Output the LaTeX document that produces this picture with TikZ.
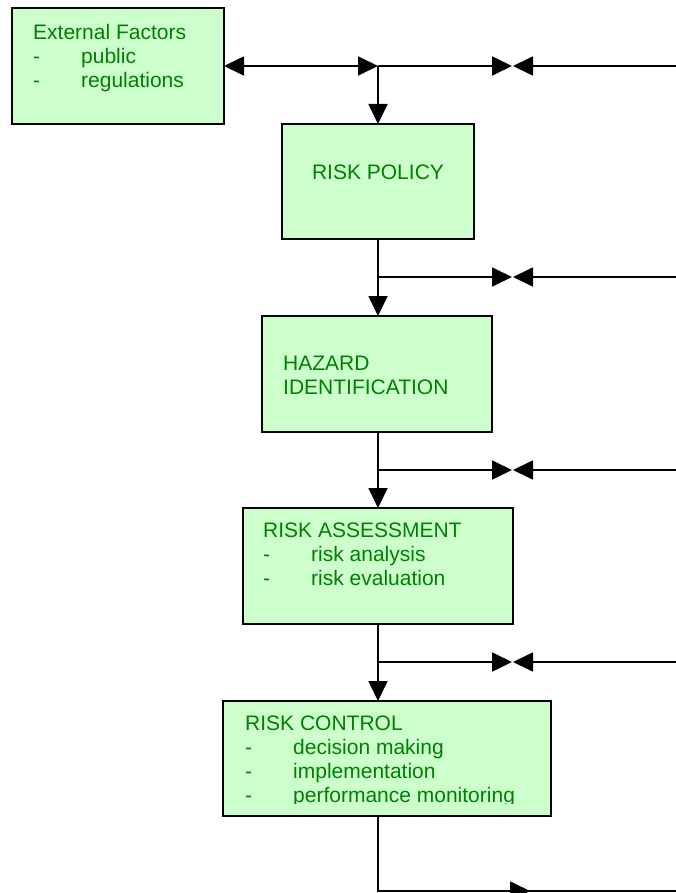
\documentclass[tikz,border=0pt]{standalone}
\usepackage{fontspec}
\setmainfont{Liberation Sans}
\usetikzlibrary{arrows.meta}
\definecolor{boxfill}{HTML}{CCFFCC}
\definecolor{txtgreen}{HTML}{008000}
\newcommand{\itm}[1]{\makebox[48pt][l]{-}#1}
\begin{document}
\begin{tikzpicture}[x=1pt,y=-1pt,
  box/.style={draw=black,line width=1.8pt,fill=boxfill,rectangle,anchor=north west,inner sep=0pt,outer sep=0pt},
  lbl/.style={anchor=base west,inner sep=0pt,text=txtgreen,font=\fontsize{21}{24}\selectfont},
  clbl/.style={anchor=base,inner sep=0pt,text=txtgreen,font=\fontsize{21}{24}\selectfont},
  conn/.style={line width=1.8pt,-{Triangle[length=20pt,width=19pt]}},
  plain/.style={line width=1.8pt}]
\useasboundingbox (0,0) rectangle (676,893);
% boxes
\node[box,minimum width=212pt,minimum height=116pt] (ext) at (12,8) {};
\node[box,minimum width=192pt,minimum height=115pt] (pol) at (282,124) {};
\node[box,minimum width=230pt,minimum height=116pt] (haz) at (262,316) {};
\node[box,minimum width=270pt,minimum height=116pt] (ra) at (243,508) {};
\node[box,minimum width=328pt,minimum height=115pt] (rc) at (223,701) {};
% texts
\node[lbl] (ext1) at (33,40) {External Factors};
\node[lbl] (ext2) at (33,64) {\itm{public}};
\node[lbl] (ext3) at (33,88) {\itm{regulations}};
\node[clbl] (pol1) at (378,179.5) {RISK POLICY};
\node[lbl] (haz1) at (283,370.5) {HAZARD};
\node[lbl] (haz2) at (283,394.5) {IDENTIFICATION};
\node[lbl] (ra1) at (263,537.5) {RISK ASSESSMENT};
\node[lbl] (ra2) at (263,561.5) {\itm{risk analysis}};
\node[lbl] (ra3) at (263,585.5) {\itm{risk evaluation}};
\node[lbl] (rc1) at (245,730.5) {RISK CONTROL};
\node[lbl] (rc2) at (245,754.5) {\itm{decision making}};
\node[lbl] (rc3) at (245,778.5) {\itm{implementation}};
\begin{scope}
\clip (223,701) rectangle (551,803.5);
\node[lbl] (rc4) at (245,802.5) {\itm{performance monitoring}};
\end{scope}
% coordinates
\coordinate (j1) at (378,66);
\coordinate (a1) at (512,66);
\coordinate (b1) at (513,66);
\coordinate (e1) at (676,66);
\coordinate (x1) at (224,66);
\coordinate (j2) at (378,277);
\coordinate (a2) at (512,277);
\coordinate (b2) at (513,277);
\coordinate (e2) at (676,277);
\coordinate (j3) at (378,470);
\coordinate (a3) at (512,470);
\coordinate (b3) at (513,470);
\coordinate (e3) at (676,470);
\coordinate (j4) at (378,662);
\coordinate (a4) at (512,662);
\coordinate (b4) at (513,662);
\coordinate (e4) at (676,662);
\coordinate (c5) at (378,891);
\coordinate (a5) at (530,891);
\coordinate (e5) at (676,891);
% row 1
\draw[line width=1.8pt,{Triangle[length=20pt,width=19pt]}-{Triangle[length=20pt,width=19pt]}] (x1) -- (j1);
\draw[conn] (j1) -- (a1);
\draw[conn] (e1) -- (b1);
\draw[conn] (j1) -- (pol.north -| j1);
% row 2
\draw[conn] (pol.south -| j2) -- (haz.north -| j2);
\draw[conn] (j2) -- (a2);
\draw[conn] (e2) -- (b2);
% row 3
\draw[conn] (haz.south -| j3) -- (ra.north -| j3);
\draw[conn] (j3) -- (a3);
\draw[conn] (e3) -- (b3);
% row 4
\draw[conn] (ra.south -| j4) -- (rc.north -| j4);
\draw[conn] (j4) -- (a4);
\draw[conn] (e4) -- (b4);
% row 5
\draw[plain] (rc.south -| c5) -- (c5) -- (e5);
\draw[conn] (c5) -- (a5);
\end{tikzpicture}
\end{document}
